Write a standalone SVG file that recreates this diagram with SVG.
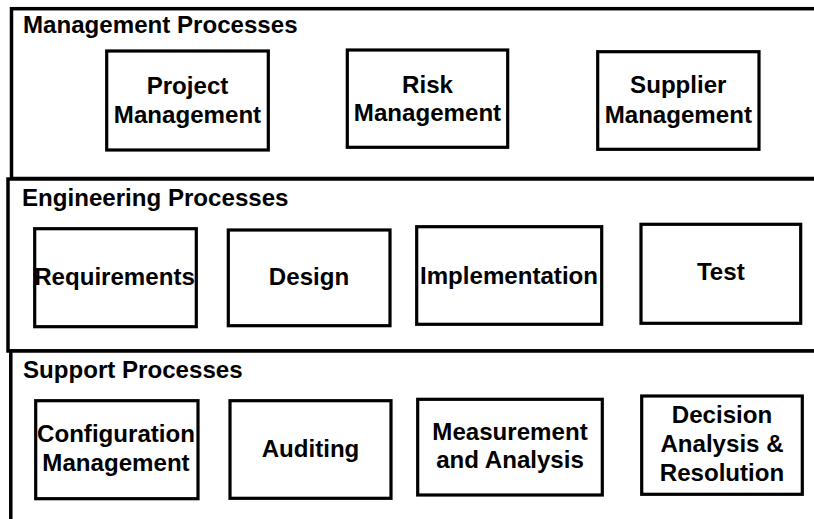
<svg xmlns="http://www.w3.org/2000/svg" width="814" height="519" viewBox="0 0 814 519">
<style>
.bg{fill:#ffffff}
.outer{fill:#ffffff;stroke:#000000;stroke-width:3.5}
.box{fill:#ffffff;stroke:#000000;stroke-width:3.2}
.t{font-family:"Liberation Sans",Arial,Helvetica,sans-serif;font-weight:bold;font-size:24.1px;fill:#000000}
.c{text-anchor:middle}
</style>
<rect class="bg" x="0" y="0" width="814" height="519"/>
<g id="management-processes">
<rect class="outer" x="11.5" y="8.7" width="830" height="169.8"/>
<text class="t" x="23" y="33.3">Management Processes</text>
</g>
<g id="engineering-processes">
<rect class="outer" x="8" y="179" width="830" height="172"/>
<text class="t" x="22" y="205.7">Engineering Processes</text>
</g>
<g id="support-processes">
<rect class="outer" x="10.8" y="351" width="830" height="200"/>
<text class="t" x="23" y="378">Support Processes</text>
</g>
<g id="project-management">
<rect class="box" x="106.7" y="51" width="161.6" height="99"/>
<text class="t c" x="187.5" y="94">Project</text>
<text class="t c" x="187.5" y="123.3">Management</text>
</g>
<g id="risk-management">
<rect class="box" x="347.3" y="50" width="160.4" height="97.3"/>
<text class="t c" x="427.5" y="92.7">Risk</text>
<text class="t c" x="427.5" y="120.7">Management</text>
</g>
<g id="supplier-management">
<rect class="box" x="597.7" y="51.7" width="161.3" height="97.6"/>
<text class="t c" x="678.3" y="93.3">Supplier</text>
<text class="t c" x="678.3" y="123.3">Management</text>
</g>
<g id="requirements">
<rect class="box" x="34.7" y="228.7" width="161.6" height="98"/>
<text class="t c" x="114.5" y="285">Requirements</text>
</g>
<g id="design">
<rect class="box" x="228.3" y="230" width="161.7" height="95.7"/>
<text class="t c" x="309" y="285">Design</text>
</g>
<g id="implementation">
<rect class="box" x="416.7" y="226.7" width="185" height="97.6"/>
<text class="t c" x="509" y="284">Implementation</text>
</g>
<g id="test">
<rect class="box" x="641" y="224.3" width="159.7" height="99"/>
<text class="t c" x="720.8" y="280">Test</text>
</g>
<g id="configuration-management">
<rect class="box" x="35.7" y="400.7" width="162.3" height="98"/>
<text class="t c" x="116" y="441.7">Configuration</text>
<text class="t c" x="116" y="471">Management</text>
</g>
<g id="auditing">
<rect class="box" x="230" y="400.7" width="161" height="97.6"/>
<text class="t c" x="310.5" y="456.5">Auditing</text>
</g>
<g id="measurement-and-analysis">
<rect class="box" x="417.7" y="399.3" width="184.6" height="95.7"/>
<text class="t c" x="510" y="440">Measurement</text>
<text class="t c" x="510" y="468">and Analysis</text>
</g>
<g id="decision-analysis-resolution">
<rect class="box" x="641.7" y="396" width="160.6" height="98.3"/>
<text class="t c" x="722" y="423">Decision</text>
<text class="t c" x="722" y="452">Analysis &amp;</text>
<text class="t c" x="722" y="481">Resolution</text>
</g>
<g id="connectors"></g>
</svg>
